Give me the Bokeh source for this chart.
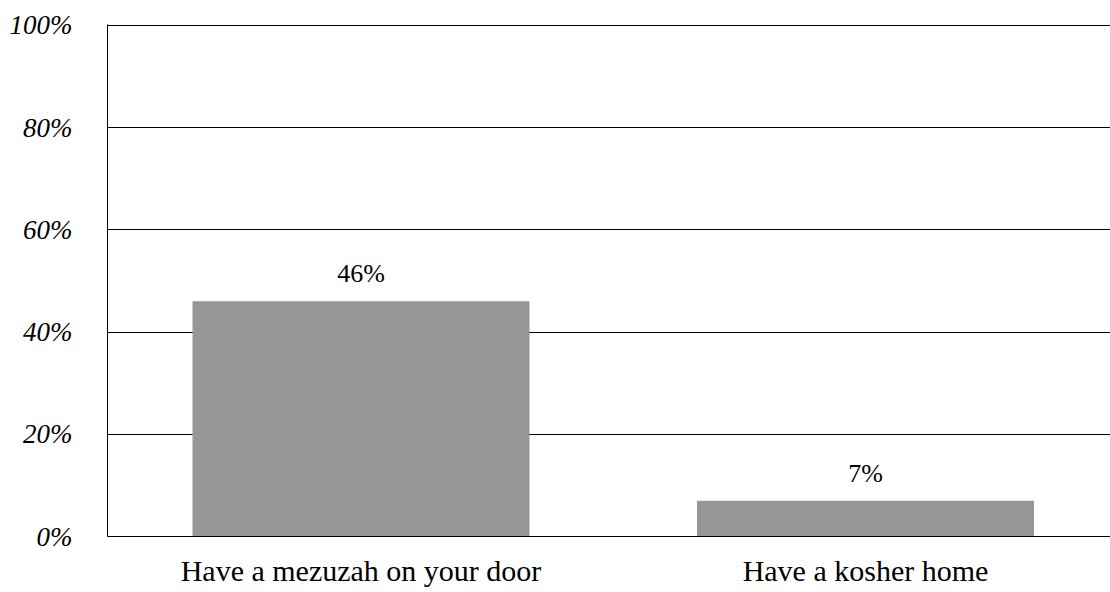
from bokeh.plotting import figure
from bokeh.models import Range1d, FixedTicker, ColumnDataSource, LabelSet
from bokeh.embed import file_html
from bokeh.resources import INLINE

categories = ["Have a mezuzah on your door", "Have a kosher home"]
values = [46, 7]
value_labels = ["46%", "7%"]
y_ticks = [0, 20, 40, 60, 80, 100]
y_tick_labels = ["0%", "20%", "40%", "60%", "80%", "100%"]

FONT = "Liberation Serif"
idx = list(range(len(categories)))

src = ColumnDataSource(dict(x=idx, top=values, lab=value_labels))

p = figure(width=1110, height=590, output_backend="svg", toolbar_location=None,
           x_range=Range1d(-0.5025, 1.4856), y_range=Range1d(0, 100.15),
           min_border_left=107, min_border_top=24, min_border_right=0,
           min_border_bottom=54)
p.outline_line_color = None
p.background_fill_color = "white"
p.border_fill_color = "white"

p.vbar(x="x", top="top", width=0.668, bottom=0, source=src,
       fill_color="#969696", line_color=None)

labels = LabelSet(x="x", y="top", text="lab", source=src, text_align="center",
                  text_baseline="alphabetic", y_offset=19,
                  text_font=FONT, text_font_size="26px", text_color="black")
p.add_layout(labels)

# grid
p.xgrid.grid_line_color = None
p.ygrid.grid_line_color = "black"
p.ygrid.grid_line_width = 1
p.ygrid.ticker = FixedTicker(ticks=y_ticks)

# y axis
p.yaxis.ticker = FixedTicker(ticks=y_ticks)
p.yaxis.major_label_overrides = {t: l for t, l in zip(y_ticks, y_tick_labels)}
p.yaxis.major_tick_line_color = None
p.yaxis.minor_tick_line_color = None
p.yaxis.axis_line_color = "black"
p.yaxis.major_label_standoff = 29
p.yaxis.major_label_text_font = FONT
p.yaxis.major_label_text_font_style = "italic"
p.yaxis.major_label_text_font_size = "27px"
p.yaxis.major_label_text_color = "black"

# x axis
p.xaxis.ticker = FixedTicker(ticks=idx)
p.xaxis.major_label_overrides = {i: c for i, c in zip(idx, categories)}
p.xaxis.major_tick_line_color = None
p.xaxis.minor_tick_line_color = None
p.xaxis.axis_line_color = "black"
p.xaxis.major_label_standoff = 11
p.xaxis.major_label_text_font = FONT
p.xaxis.major_label_text_font_size = "30px"
p.xaxis.major_label_text_color = "black"

open("out.html", "w").write(file_html(p, INLINE))
